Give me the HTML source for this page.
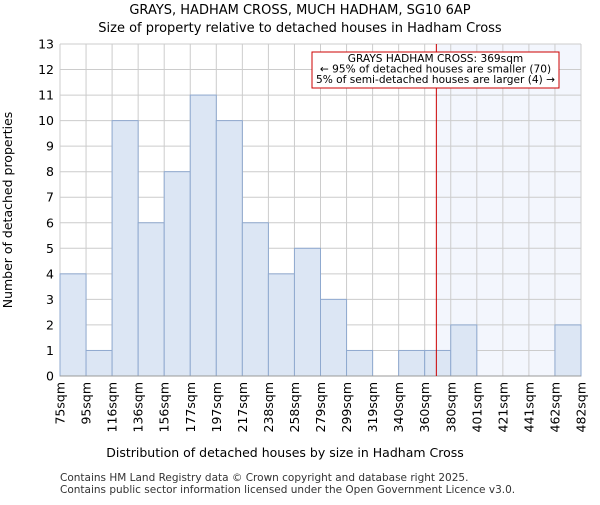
<!DOCTYPE html>
<html><head><meta charset="utf-8"><style>
body{margin:0;background:#fff;}
svg{font-family:"DejaVu Sans","Liberation Sans",sans-serif;}
</style></head><body>
<svg id="c" width="600" height="500" xmlns="http://www.w3.org/2000/svg">
<text x="300" y="14" font-size="13" text-anchor="middle">GRAYS, HADHAM CROSS, MUCH HADHAM, SG10 6AP</text>
<text x="300" y="32" font-size="13" text-anchor="middle">Size of property relative to detached houses in Hadham Cross</text>
<g id="g"></g>
<text x="285" y="457" font-size="12.5" text-anchor="middle">Distribution of detached houses by size in Hadham Cross</text>
<text transform="translate(12,210) rotate(-90)" font-size="12.5" text-anchor="middle">Number of detached properties</text>
<text x="60" y="481" font-size="10.5" fill="#333">Contains HM Land Registry data © Crown copyright and database right 2025.</text>
<text x="60" y="493" font-size="10.5" fill="#333">Contains public sector information licensed under the Open Government Licence v3.0.</text>
</svg>
<script>
const categories=["75sqm","95sqm","116sqm","136sqm","156sqm","177sqm","197sqm","217sqm","238sqm","258sqm","279sqm","299sqm","319sqm","340sqm","360sqm","380sqm","401sqm","421sqm","441sqm","462sqm","482sqm"];
const counts=[4,1,10,6,8,11,10,6,4,5,3,1,0,1,1,2,0,0,0,2];
const yTicks=[0,1,2,3,4,5,6,7,8,9,10,11,12,13];
const binStart=75, binWidth=20.35, marker=369;
const L=60,R=581,T=44,B=376,ymax=13;
const n=counts.length, bw=(R-L)/n;
const xs=i=>L+i*bw;
const xv=v=>L+(v-binStart)/binWidth*bw;
const ys=v=>B-v/ymax*(B-T);
const NS="http://www.w3.org/2000/svg";
const g=document.getElementById('g');
function mk(t,a){const e=document.createElementNS(NS,t);for(const k in a)e.setAttribute(k,a[k]);g.appendChild(e);return e;}
const mx=xv(marker);
const sh=mk('rect',{x:mx,y:T,width:R-mx,height:B-T,fill:'#f3f6fd'});


yTicks.forEach(v=>{
 const l=mk('line',{x1:L,x2:R,y1:ys(v),y2:ys(v),stroke:'#ccc','stroke-width':1});
 
 
 const t=mk('text',{x:L-6,y:ys(v)+4.5,'font-size':12.5,'text-anchor':'end'});
 t.textContent=v;
 
 
});
categories.forEach((c,i)=>{
 const l=mk('line',{x1:xs(i),x2:xs(i),y1:T,y2:B,stroke:'#ccc','stroke-width':1});
 
 
 const x=xs(i);
 const t=mk('text',{transform:`translate(${x+4.5},${B+6}) rotate(-90)`,'font-size':12.5,'text-anchor':'end'});
 t.textContent=c;
 
 
});
counts.forEach((v,i)=>{
 if(v<=0)return;
 const r=mk('rect',{x:xs(i),y:ys(v),width:bw,height:B-ys(v),fill:'#dce6f4',stroke:'#8fa9cf','stroke-width':1});
 
 
});
const ax=mk('line',{x1:L,x2:R,y1:B,y2:B,stroke:'#999'});


const ml=mk('line',{x1:mx,x2:mx,y1:T,y2:B,stroke:'#cc0000','stroke-width':1});


const box=mk('rect',{x:312,y:52,width:247,height:36,fill:'#fff',stroke:'#cc0000','stroke-width':1});


["GRAYS HADHAM CROSS: 369sqm","← 95% of detached houses are smaller (70)","5% of semi-detached houses are larger (4) →"].forEach((s,i)=>{
 const t=mk('text',{x:435.5,y:62+i*10.5,'font-size':10.6,'text-anchor':'middle'});
 t.textContent=s;
 
 
});
</script>
</body></html>
